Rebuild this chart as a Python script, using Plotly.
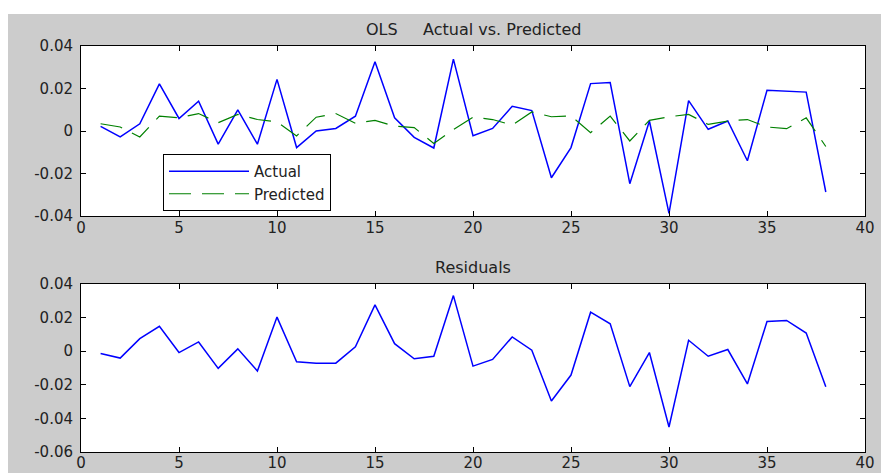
import plotly.graph_objects as go

# Observation index
obs = list(range(1, 39))

# Actual returns
actual = [0.0022, -0.0028, 0.0034, 0.0222, 0.0059, 0.0140, -0.0062, 0.0099, -0.0062, 0.0243,
          -0.0078, 0.0000, 0.0012, 0.0070, 0.0326, 0.0062, -0.0030, -0.0080, 0.0338, -0.0022,
          0.0012, 0.0116, 0.0096, -0.0220, -0.0078, 0.0223, 0.0228, -0.0248, 0.0047, -0.0388,
          0.0143, 0.0008, 0.0047, -0.0140, 0.0192, 0.0188, 0.0183, -0.0287]

# OLS fitted values
predicted = [0.0034, 0.0019, -0.0028, 0.0070, 0.0062, 0.0082, 0.0039, 0.0078, 0.0054, 0.0043,
             -0.0023, 0.0065, 0.0082, 0.0036, 0.0050, 0.0023, 0.0016, -0.0059, 0.0007, 0.0065,
             0.0054, 0.0028, 0.0090, 0.0067, 0.0071, -0.0008, 0.0070, -0.0047, 0.0050, 0.0067,
             0.0078, 0.0031, 0.0047, 0.0054, 0.0019, 0.0011, 0.0062, -0.0073]

# Residuals
residuals = [-0.0014, -0.0041, 0.0075, 0.0148, -0.0008, 0.0055, -0.0102, 0.0014, -0.0118, 0.0203,
             -0.0063, -0.0071, -0.0071, 0.0026, 0.0276, 0.0045, -0.0045, -0.0030, 0.0331, -0.0089,
             -0.0049, 0.0085, 0.0006, -0.0296, -0.0142, 0.0232, 0.0163, -0.0211, -0.0008, -0.0451,
             0.0065, -0.0030, 0.0010, -0.0195, 0.0177, 0.0183, 0.0108, -0.0211]

x_ticks = [0, 5, 10, 15, 20, 25, 30, 35, 40]
top_yticks = [-0.04, -0.02, 0, 0.02, 0.04]
top_ylabels = ["-0.04", "-0.02", "0", "0.02", "0.04"]
bot_yticks = [-0.06, -0.04, -0.02, 0, 0.02, 0.04]
bot_ylabels = ["-0.06", "-0.04", "-0.02", "0", "0.02", "0.04"]

FONT = "DejaVu Sans, Verdana, Arial, sans-serif"
TXT = "#222222"
W, H = 881, 473
ML, MR, MT, MB = 81, 16, 46, 21

fig = go.Figure()
fig.add_trace(go.Scatter(x=obs, y=actual, name="Actual", mode="lines",
                         line=dict(color="#0000ff", width=1.5), xaxis="x", yaxis="y"))
fig.add_trace(go.Scatter(x=obs, y=predicted, name="Predicted", mode="lines",
                         line=dict(color="#008000", width=1.2, dash="22px,11px"),
                         xaxis="x", yaxis="y"))
fig.add_trace(go.Scatter(x=obs, y=residuals, name="Residuals", mode="lines",
                         line=dict(color="#0000ff", width=1.5), showlegend=False,
                         xaxis="x2", yaxis="y2"))

plot_h = H - MT - MB
top_dom = [(H - MB - 216) / plot_h, 1.0]
bot_dom = [0.0, (H - MB - 284) / plot_h]

axis_common = dict(showline=True, linecolor="black", linewidth=1, mirror="ticks",
                   ticks="inside", ticklen=5, tickcolor="black", showgrid=False,
                   zeroline=False, automargin=False,
                   tickfont=dict(family=FONT, size=15, color=TXT))

fig.update_layout(
    width=W, height=H, template="none",
    margin=dict(l=ML, r=MR, t=MT, b=MB),
    paper_bgcolor="#cccccc", plot_bgcolor="white",
    showlegend=True,
    xaxis=dict(domain=[0, 1], range=[0, 40], tickvals=x_ticks, anchor="y",
               ticklabelstandoff=-2, **axis_common),
    yaxis=dict(domain=top_dom, range=[-0.04, 0.04], tickvals=top_yticks,
               ticktext=top_ylabels, anchor="x", ticklabelstandoff=4, **axis_common),
    xaxis2=dict(domain=[0, 1], range=[0, 40], tickvals=x_ticks, anchor="y2",
                ticklabelstandoff=-3, **axis_common),
    yaxis2=dict(domain=bot_dom, range=[-0.06, 0.04], tickvals=bot_yticks,
                ticktext=bot_ylabels, anchor="x2", ticklabelstandoff=4, **axis_common),
    legend=dict(x=(163 - ML) / (W - ML - MR), y=1 - (154 - MT) / plot_h,
                xanchor="left", yanchor="top", bgcolor="white",
                bordercolor="black", borderwidth=1, itemwidth=80,
                entrywidth=206, entrywidthmode="pixels",
                font=dict(family=FONT, size=15, color=TXT)),
)

# subplot titles
fig.add_annotation(text="OLS\u00a0\u00a0\u00a0\u00a0\u00a0Actual vs. Predicted", xref="paper", yref="paper",
                   x=0.5, y=top_dom[1], xanchor="center", yanchor="bottom", yshift=5,
                   showarrow=False, font=dict(family=FONT, size=16, color=TXT))
fig.add_annotation(text="Residuals", xref="paper", yref="paper",
                   x=0.5, y=bot_dom[1], xanchor="center", yanchor="bottom", yshift=5,
                   showarrow=False, font=dict(family=FONT, size=16, color=TXT))

# white border strip along the top and left of the window
px_w = W - ML - MR
fig.add_shape(type="rect", xref="paper", yref="paper", layer="below",
              x0=-ML / px_w - 0.01, x1=(W - ML) / px_w + 0.01,
              y0=1 + (MT - 14) / plot_h, y1=1 + MT / plot_h + 0.01,
              line=dict(width=0), fillcolor="white")
fig.add_shape(type="rect", xref="paper", yref="paper", layer="below",
              x0=-ML / px_w - 0.01, x1=(8 - ML) / px_w,
              y0=-MB / plot_h - 0.01, y1=1 + MT / plot_h + 0.01,
              line=dict(width=0), fillcolor="white")

fig.write_html("out.html")
